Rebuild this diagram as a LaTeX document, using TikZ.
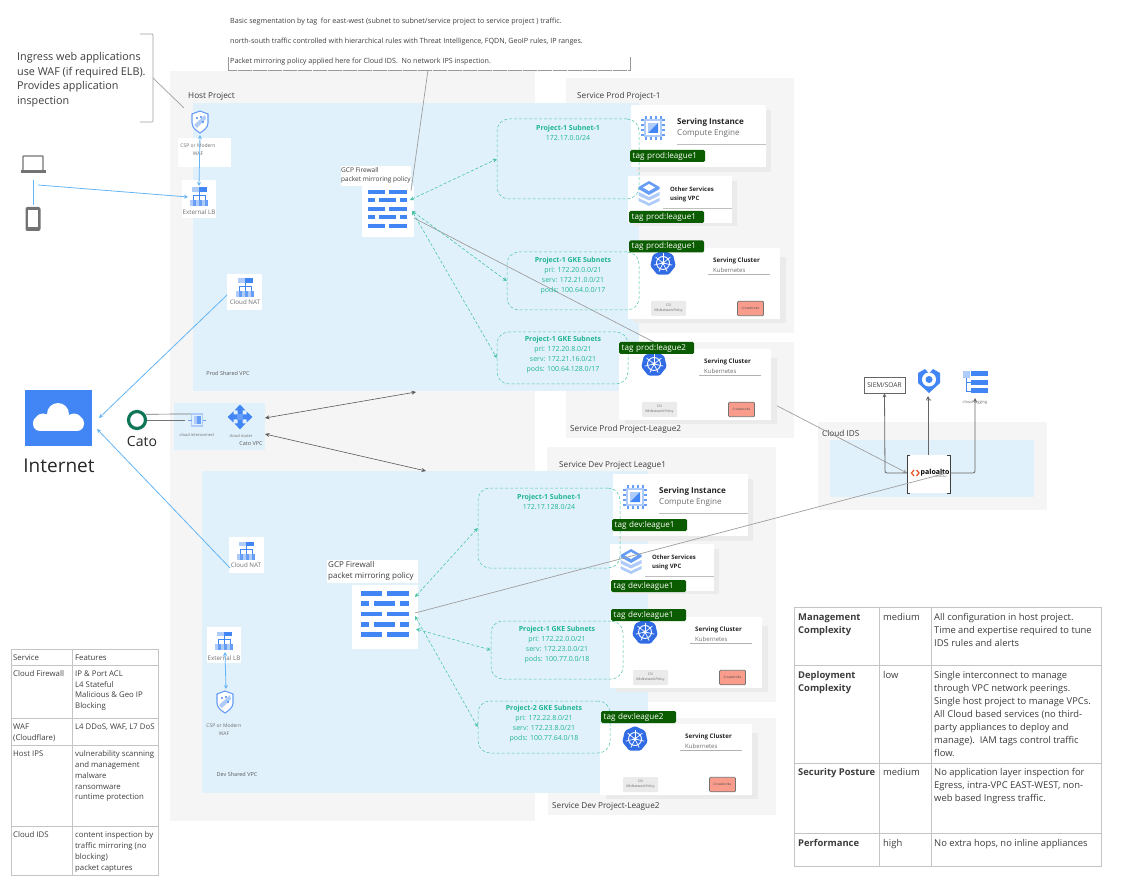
\documentclass[tikz,border=0pt]{standalone}
\usepackage{fontspec}
\setmainfont{Open Sans}
\usetikzlibrary{arrows.meta}

\definecolor{panelgray}{HTML}{F5F5F5}
\definecolor{vpcblue}{HTML}{E1F1FB}
\definecolor{shadowgray}{HTML}{EBEBEB}
\definecolor{subnetteal}{HTML}{1FB594}
\definecolor{taggreen}{HTML}{0B5C00}
\definecolor{gblue}{HTML}{4285F4}
\definecolor{gmid}{HTML}{669DF6}
\definecolor{glight}{HTML}{AECBFA}
\definecolor{kubeblue}{HTML}{326CE5}
\definecolor{skyline}{HTML}{64B5F6}
\definecolor{mirrorgray}{HTML}{9E9E9E}
\definecolor{inkgray}{HTML}{3C3C3C}
\definecolor{iconlabelgray}{HTML}{6E6E6E}
\definecolor{rulegray}{HTML}{C4C4C4}
\definecolor{salmon}{HTML}{F99C8B}
\definecolor{catogreen}{HTML}{0E7558}
\definecolor{paloorange}{HTML}{E8501F}

\tikzset{
  txt/.style 2 args={inner sep=0pt,align=left,text=inkgray,font=\fontsize{#1}{#2}\selectfont},
  arealabel/.style={txt={8.2}{10},anchor=west,yshift=-1.5pt},
  iconlabel/.style={txt={6.2}{7.5},align=center,text=iconlabelgray},
  vpclabel/.style={txt={5.5}{7.5},align=center,text=black!65},
  tinylabel/.style={txt={4}{5},align=center,text=iconlabelgray},
  toptext/.style={txt={7.15}{8},anchor=west},
  subnettext/.style={txt={7}{10},align=center,text=subnetteal,anchor=north,yshift=-2pt},
  cellleft/.style={txt={7.8}{10.8},anchor=north west,yshift=-1.5pt},
  cellright/.style={txt={9.4}{13},anchor=north west,yshift=-1.5pt},
  tagbox/.style={fill=taggreen,rounded corners=1.5pt,text=white,anchor=west,align=left,
    inner sep=0pt,text width=70pt,minimum height=12pt,inner xsep=2.5pt,font=\fontsize{8.1}{9}\selectfont},
  subnet/.style={draw=subnetteal!80,densely dashed,line width=0.5pt,rounded corners=12pt,inner sep=0pt},
  iconbox/.style={fill=white,inner sep=0pt},
  tealpeer/.style={draw=subnetteal!80,densely dashed,line width=0.6pt,{Stealth[length=4pt,width=4pt,fill=subnetteal]}-{Stealth[length=4pt,width=4pt,fill=subnetteal]}},
  mirror/.style={draw=mirrorgray,line width=0.7pt},
  skyarrow/.style={draw=skyline,line width=0.8pt,-{Stealth[length=4pt,width=4pt]}},
  darkarrow/.style={draw=black!65,line width=0.6pt,{Stealth[length=4.5pt,width=4pt]}-{Stealth[length=4.5pt,width=4pt]}},
  idsarrow/.style={draw=black!60,line width=0.8pt,rounded corners=2pt,-{Stealth[length=4pt,width=4pt]}},
  tablerule/.style={draw=rulegray,line width=0.7pt},
  fwicon/.pic={
    \foreach \r in {-17,0,17} {
      \fill[gblue] (-19.5,\r-2) rectangle (-2.5,\r+2);
      \fill[gblue] (1.5,\r-2) rectangle (19.5,\r+2);
    }
    \foreach \r in {-8.5,8.5} {
      \fill[gblue] (-19.5,\r-2) rectangle (-13,\r+2);
      \fill[gblue] (-9,\r-2) rectangle (8.5,\r+2);
      \fill[gblue] (12.5,\r-2) rectangle (19.5,\r+2);
    }
  },
  lbicon/.pic={
    \fill[glight] (-7.5,-9.5) rectangle (0,-5);
    \fill[gblue] (0,-9.5) rectangle (7.5,-5);
    \draw[gblue,line width=0.9pt] (0,-5) -- (0,-2);
    \draw[gblue,line width=0.7pt] (-6,3) -- (-6,-2) -- (6,-2) -- (6,3);
    \draw[gblue,line width=0.7pt] (0,-2) -- (0,3);
    \foreach \c in {-6,0,6} {
      \fill[glight] (\c-3,3) rectangle (\c,9);
      \fill[gmid] (\c,3) rectangle (\c+3,9);
    }
  },
  shieldicon/.pic={
    \draw[gmid,line width=1.1pt,fill=white] (0,-11) -- (8,-8) -- (8,1) .. controls (8,6) and (3,9) .. (0,11)
      .. controls (-3,9) and (-8,6) .. (-8,1) -- (-8,-8) -- cycle;
    \fill[glight] (-6,3) -- (5,-7) -- (6,-3) -- (-3,6) -- cycle;
    \fill[gblue] (-3,-4) circle (1.2);
    \fill[gblue] (1,-5) circle (1.1);
    \fill[gblue] (3,0) circle (1.2);
  },
  chipicon/.pic={
    \foreach \p in {-7.5,-2.5,2.5,7.5} {
      \fill[gmid] (\p-1,-12) rectangle (\p+1,-9);
      \fill[gmid] (\p-1,9) rectangle (\p+1,12);
      \fill[gmid] (-12,\p-1) rectangle (-9,\p+1);
      \fill[gmid] (9,\p-1) rectangle (12,\p+1);
    }
    \draw[glight,line width=2pt,fill=white] (-8,-8) rectangle (8,8);
    \fill[glight] (-5,-5) rectangle (5,5);
    \fill[gblue] (5,-5) -- (5,5) -- (-5,5) -- cycle;
  },
  stackicon/.pic={
    \fill[glight] (-10.5,5) -- (0,10) -- (10.5,5) -- (10.5,8) -- (0,13) -- (-10.5,8) -- cycle;
    \fill[glight] (-10.5,-1) -- (0,4) -- (10.5,-1) -- (10.5,2.5) -- (0,7.5) -- (-10.5,2.5) -- cycle;
    \fill[gmid] (-10.5,-6) -- (0,-12) -- (10.5,-6) -- (10.5,-4) -- (0,2) -- (-10.5,-4) -- cycle;
    \fill[white] (-6,-5.5) -- (0,-9) -- (6,-5.5) -- (0,-2) -- cycle;
  },
  kubeicon/.pic={
    \fill[kubeblue,rounded corners=1.5pt] (-90:13) -- (-38.6:13) -- (12.9:13) -- (64.3:13) -- (115.7:13) -- (167.1:13) -- (218.6:13) -- cycle;
    \draw[white,line width=0.9pt] (0,0) circle (6.5);
    \foreach \a in {-90,-38.6,12.9,64.3,115.7,167.1,218.6}
      \draw[white,line width=0.7pt] (0,0) -- (\a:9.5);
    \fill[white] (0,0) circle (1.8);
  },
  sccicon/.pic={
    \fill[gblue] (-4,-12) -- (-11,-8) -- (-11,2) -- (0,12) -- (11,2) -- (11,-8) -- (4,-12) -- (0,-7.5) -- cycle;
    \fill[white] (0,-1.5) circle (7);
    \fill[gblue] (0,-1.5) circle (3.5);
  },
  logicon/.pic={
    \foreach \r in {-9,-0.5,8} \fill[gblue] (-4,\r-2.5) rectangle (12.5,\r+2.5);
    \draw[gblue,line width=0.9pt] (-9,-7) -- (-9,8) -- (-4,8);
    \draw[gblue,line width=0.9pt] (-9,-0.5) -- (-4,-0.5);
    \fill[glight] (-12.5,-12) rectangle (-5,-5);
  },
  routericon/.pic={
    \foreach \a in {0,90,180,270}
      \fill[gblue,rotate=\a] (12.5,0) -- (6.5,-5.5) -- (6.5,-2.5) -- (2.5,-2.5) -- (2.5,2.5) -- (6.5,2.5) -- (6.5,5.5) -- cycle;
    \fill[gmid] (-3,-3) rectangle (3,3);
  },
  linkicon/.pic={
    \draw[glight,line width=1.1pt] (-5.5,-6) rectangle (5.5,6);
    \fill[glight] (-3.5,-4) rectangle (0,4);
    \fill[gmid] (0,-4) rectangle (3.5,4);
    \draw[gmid,line width=0.8pt] (-9,0) -- (-5.5,0);
    \draw[gmid,line width=0.8pt] (5.5,0) -- (9,0);
  },
  laptopicon/.pic={
    \draw[black!55,line width=1.3pt,rounded corners=0.5pt] (-10,6) -- (-10,-8) -- (10,-8) -- (10,6);
    \fill[black!55] (-12.5,6) rectangle (12.5,9);
  },
  phoneicon/.pic={
    \fill[black!55,rounded corners=2pt] (-7.5,-12) rectangle (7.5,12);
    \fill[white] (-5,-8.5) rectangle (5,8.5);
  },
  instancecard/.pic={
    \fill[shadowgray] (5,5) rectangle (140,67);
    \node[iconbox,minimum width=135pt,minimum height=62pt] (card) at (67.5,31) {};
    \pic at (22,23) {chipicon};
    \node[txt={8.1}{10},anchor=west,text=black!85] (title) at (46,17) {\textbf{Serving Instance}};
    \node[txt={8.1}{10},anchor=west,text=iconlabelgray] (kind) at (46,29) {Compute Engine};
    \draw[black!25,line width=0.8pt] (46,39.5) -- (135,39.5);
  },
  othercard/.pic={
    \fill[shadowgray] (5,5) rectangle (109,50);
    \node[iconbox,minimum width=104pt,minimum height=47pt] (card) at (52,23.5) {};
    \pic at (21,17) {stackicon};
    \node[txt={6}{9},anchor=north west,text=black!85] (title) at (42,10.5) {\textbf{Other Services}\\\textbf{using VPC}};
    \draw[black!25,line width=0.8pt] (35,32.5) -- (104,32.5);
  },
  clustercard/.pic={
    \fill[shadowgray] (6,9) rectangle (158,75);
    \node[iconbox,minimum width=152pt,minimum height=71pt] (card) at (76,35.5) {};
    \pic at (35,15) {kubeicon};
    \node[txt={6.2}{8},anchor=west,text=black!85] (title) at (85,13) {\textbf{Serving Cluster}};
    \node[txt={6}{8},anchor=west,text=iconlabelgray] (kind) at (85,22) {Kubernetes};
    \draw[black!30,line width=0.7pt] (80,26) -- (142,26);
    \node[fill=black!8,rounded corners=1pt,inner sep=0pt,minimum width=35pt,minimum height=15pt,align=center,text=black!60,font=\fontsize{3.4}{5}\selectfont] (csi) at (40.5,60.5) {CSI\\K8sNetworkPolicy};
    \node[fill=salmon,draw=black!55,line width=0.7pt,rounded corners=1pt,inner sep=0pt,minimum width=26pt,minimum height=14.5pt,text=black!70,font=\fontsize{3.2}{5}\selectfont] (crowd) at (122.5,60.5) {Crowdstrike};
  },
}

\begin{document}
\begin{tikzpicture}[x=1pt,y=-1pt]
  \useasboundingbox (0,0) rectangle (1122,890);

  % project panels
  \fill[panelgray] (170,71) rectangle (535,821);
  \fill[panelgray] (566,78) rectangle (794,333);
  \fill[panelgray] (566,342) rectangle (794,438);
  \fill[panelgray] (547,447) rectangle (776,702);
  \fill[panelgray] (548,718) rectangle (776,815);
  \fill[panelgray] (818,422) rectangle (1047,510);

  % shared vpcs
  \fill[vpcblue] (193,103) rectangle (639,391);
  \fill[vpcblue] (202,471) rectangle (648,793);
  \fill[vpcblue] (174,403) rectangle (265,450);
  \fill[vpcblue] (830,440) rectangle (1034,497);

  \node[arealabel] (hostproject) at (188,95) {Host Project};
  \node[arealabel] (prodone) at (577,95) {Service Prod Project-1};
  \node[arealabel] (prodtwo) at (570,428) {Service Prod Project-League2};
  \node[arealabel] (devone) at (559,464) {Service Dev Project League1};
  \node[arealabel] (devtwo) at (552,805) {Service Dev Project-League2};
  \node[arealabel] (cloudids) at (822,432) {Cloud IDS};
  \node[vpclabel] (prodvpc) at (228,373) {Prod Shared VPC};
  \node[vpclabel] (devvpc) at (237,774) {Dev Shared VPC};
  \node[vpclabel] (catovpc) at (251,444) {Cato VPC};

  % notes
  \node[txt={10.8}{14.5},anchor=north west] (ingressnote) at (17,52.5) {Ingress web applications\\use WAF (if required ELB).\\Provides application\\inspection};
  \draw[mirror,rounded corners=1pt] (140,34) -- (153,34) -- (153,122) -- (140,122);
  \coordinate (ingressfoot) at (153,78);
  \coordinate (ingresshead) at (184,108);
  \draw[mirror] (ingressfoot) -- (ingresshead);

  \node[toptext] (topone) at (230,22) {Basic segmentation by tag\ \ for east-west (subnet to subnet/service project to service project ) traffic.};
  \node[toptext] (toptwo) at (230,41.5) {north-south traffic controlled with hierarchical rules with Threat Intelligence, FQDN, GeoIP rules, IP ranges.};
  \node[toptext] (topthree) at (230,61.5) {Packet mirroring policy applied here for Cloud IDS.\ \ No network IPS inspection.};
  \draw[black!40,line width=0.5pt,dash pattern=on 7pt off 0.5pt] (228,57) -- (228,70) -- (630,70) -- (630,57);

  % mirrored traffic of prod passes behind the cards
  \coordinate (fwprodmirror) at (410,216);
  \coordinate (paloin) at (907,473);
  \draw[mirror,-{Stealth[length=4pt,width=4pt]}] (fwprodmirror) -- (paloin);

  % cards
  \pic (instprod) at (631,105) {instancecard};
  \pic (otherprod) at (628,176) {othercard};
  \pic (clusterprod) at (628,248) {clustercard};
  \pic (clusterleague) at (619,349) {clustercard};
  \pic (instdev) at (613,474) {instancecard};
  \pic (otherdev) at (610,544) {othercard};
  \pic (clusterdev) at (610,617) {clustercard};
  \pic (clusterdevleague) at (600,724) {clustercard};

  % subnets
  \node[subnet,minimum width=142pt,minimum height=80pt] (subprodone) at (568,159) {};
  \node[subnet,minimum width=132pt,minimum height=58pt] (subprodtwo) at (573,281) {};
  \node[subnet,minimum width=131pt,minimum height=52pt] (subprodthree) at (562.5,358) {};
  \node[subnet,minimum width=142pt,minimum height=80pt] (subdevone) at (549,528) {};
  \node[subnet,minimum width=132pt,minimum height=58pt] (subdevtwo) at (557,650) {};
  \node[subnet,minimum width=132pt,minimum height=52pt] (subdevthree) at (544,727) {};

  \node[subnettext] (textprodone) at (568,123) {\textbf{Project-1 Subnet-1}\\172.17.0.0/24};
  \node[subnettext] (textprodtwo) at (573,255) {\textbf{Project-1 GKE Subnets}\\pri: 172.20.0.0/21\\serv: 172.21.0.0/21\\pods: 100.64.0.0/17};
  \node[subnettext] (textprodthree) at (563,334) {\textbf{Project-1 GKE Subnets}\\pri: 172.20.8.0/21\\serv: 172.21.16.0/21\\pods: 100.64.128.0/17};
  \node[subnettext] (textdevone) at (549,492) {\textbf{Project-1 Subnet-1}\\172.17.128.0/24};
  \node[subnettext] (textdevtwo) at (557,624) {\textbf{Project-1 GKE Subnets}\\pri: 172.22.0.0/21\\serv: 172.23.0.0/21\\pods: 100.77.0.0/18};
  \node[subnettext] (textdevthree) at (544,703) {\textbf{Project-2 GKE Subnets}\\pri: 172.22.8.0/21\\serv: 172.23.8.0/21\\pods: 100.77.64.0/18};

  % tags
  \node[tagbox] (tagprodone) at (630,156) {tag prod:league1};
  \node[tagbox] (tagprodtwo) at (629,217) {tag prod:league1};
  \node[tagbox] (tagprodthree) at (629,246.5) {tag prod:league1};
  \node[tagbox] (tagprodfour) at (619,348) {tag prod:league2};
  \node[tagbox] (tagdevone) at (612,525) {tag dev:league1};
  \node[tagbox] (tagdevtwo) at (611,586) {tag dev:league1};
  \node[tagbox] (tagdevthree) at (611,615) {tag dev:league1};
  \node[tagbox] (tagdevfour) at (601,717) {tag dev:league2};

  % firewalls
  \node[iconbox,minimum width=52pt,minimum height=51pt] (fwprod) at (387.5,211.5) {};
  \pic at (387.5,209) {fwicon};
  \node[iconbox,minimum width=70pt,minimum height=20pt] (fwprodbox) at (376,176) {};
  \node[txt={6.5}{9},anchor=north west] (fwprodlabel) at (341,167) {GCP Firewall\\packet mirroring policy};
  \node[iconbox,minimum width=66pt,minimum height=64pt] (fwdev) at (385,617) {};
  \pic[scale=1.23] at (385,614) {fwicon};
  \node[iconbox,minimum width=91pt,minimum height=23pt] (fwdevbox) at (372.5,571.5) {};
  \node[txt={8}{11.5},anchor=north west] (fwdevlabel) at (328,561) {GCP Firewall\\packet mirroring policy};

  \coordinate (topnotefoot) at (428,70);
  \coordinate (fwprodtop) at (411,191);
  \draw[mirror] (topnotefoot) -- (fwprodtop);

  \coordinate (fwprodone) at (410,200);
  \coordinate (fwprodtwo) at (412,211);
  \coordinate (fwdevone) at (415,597);
  \coordinate (fwdevtwo) at (416,629);
  \coordinate (fwdevthree) at (415,616);
  \draw[tealpeer] (fwprodone) -- (subprodone.west);
  \draw[tealpeer] (fwprodtwo) -- (subprodtwo.west);
  \draw[tealpeer] (fwprodtwo) -- (subprodthree.west);
  \draw[tealpeer] (fwdevone) -- (subdevone.west);
  \draw[tealpeer] (fwdevtwo) -- (subdevtwo.west);
  \draw[tealpeer] (fwdevthree) -- (subdevthree.west);

  % ingress side of prod
  \coordinate (wafprod) at (200,122);
  \pic at (wafprod) {shieldicon};
  \node[iconbox,minimum width=53pt,minimum height=29pt] (wafprodbox) at (204.5,152.5) {};
  \node[iconlabel,txt={5}{8},align=center,text=iconlabelgray] (wafprodlabel) at (198,150) {CSP or Modern\\WAF};
  \node[iconbox,minimum width=34pt,minimum height=38pt] (lbprod) at (199,199) {};
  \pic at (199,197) {lbicon};
  \node[iconlabel] (lbprodlabel) at (199,212) {External LB};
  \node[iconbox,minimum width=35pt,minimum height=36pt] (natprod) at (244.5,292) {};
  \pic at (245,288) {lbicon};
  \node[iconlabel] (natprodlabel) at (245,302) {Cloud NAT};
  \coordinate (wafprodport) at (200,135);
  \coordinate (lbprodport) at (199,186);
  \draw[skyarrow,{Stealth[length=4pt,width=4pt]}-{Stealth[length=4pt,width=4pt]}] (wafprodport) -- (lbprodport);

  % ingress side of dev
  \node[iconbox,minimum width=35pt,minimum height=36pt] (natdev) at (246.5,555) {};
  \pic at (246,551) {lbicon};
  \node[iconlabel] (natdevlabel) at (246,565) {Cloud NAT};
  \node[iconbox,minimum width=34pt,minimum height=36pt] (lbdev) at (224,645) {};
  \pic at (224,641) {lbicon};
  \node[iconlabel] (lbdevlabel) at (224,658) {External LB};
  \coordinate (wafdev) at (225,702);
  \pic at (wafdev) {shieldicon};
  \node[iconlabel,txt={5}{7.5},align=center,text=iconlabelgray] (wafdevlabel) at (224,729.5) {CSP or Modern\\WAF};
  \coordinate (lbdevport) at (225,652);
  \coordinate (wafdevport) at (226,689);
  \draw[skyarrow,{Stealth[length=4pt,width=4pt]}-{Stealth[length=4pt,width=4pt]}] (lbdevport) -- (wafdevport);

  % clients
  \pic at (33,164) {laptopicon};
  \node[iconbox,minimum width=29pt,minimum height=29pt] (phonebox) at (32.5,218.5) {};
  \pic at (33,219) {phoneicon};
  \coordinate (laptopfoot) at (33,180);
  \coordinate (phonehead) at (33,205);
  \coordinate (clientout) at (38,185);
  \coordinate (lbprodin) at (188,197);
  \draw[skyline,line width=0.8pt] (laptopfoot) -- (phonehead);
  \draw[skyarrow] (clientout) -- (lbprodin);

  % internet
  \node[fill=gblue,minimum width=67pt,minimum height=56pt,inner sep=0pt] (internet) at (58.5,418) {};
  \fill[white,rounded corners=7pt] (33,416) rectangle (84,431);
  \fill[white] (58,414) circle (11);
  \fill[white] (43,422) circle (8.5);
  \fill[white] (74,422) circle (8.5);
  \node[txt={19}{22},anchor=center,text=black!85] (internetlabel) at (59,466) {Internet};
  \coordinate (natprodout) at (227,295);
  \coordinate (internetin) at (99,418);
  \coordinate (natdevout) at (230,568);
  \coordinate (internetlow) at (97,429);
  \draw[skyarrow] (natprodout) -- (internetin);
  \draw[skyarrow] (natdevout) -- (internetlow);

  % cato
  \node[circle,draw=catogreen,line width=3.2pt,minimum size=17pt,inner sep=0pt] (cato) at (137,420) {};
  \node[txt={14}{16},anchor=center,text=black!85] (catolabel) at (142,441) {Cato};
  \coordinate (linkicon) at (197,420);
  \coordinate (linktop) at (193,414);
  \coordinate (linkin) at (185,420);
  \draw[black!55,line width=0.7pt] (cato.35) -- (linktop);
  \draw[black!55,line width=0.7pt] (cato.east) -- (linkin);
  \pic at (linkicon) {linkicon};
  \node[tinylabel] (linklabel) at (197,435) {cloud interconnect};
  \pic at (240,417) {routericon};
  \node[tinylabel] (routerlabel) at (241,436) {cloud router};
  \coordinate (routerup) at (265,418);
  \coordinate (routerlow) at (265,434);
  \coordinate (prodvpcport) at (416,392);
  \coordinate (devvpcport) at (426,471);
  \draw[darkarrow] (routerup) -- (prodvpcport);
  \draw[darkarrow] (routerlow) -- (devvpcport);

  % cloud ids
  \node[draw=black!60,line width=0.8pt,inner sep=0pt,minimum width=41pt,minimum height=16pt,font=\fontsize{6.6}{8}\selectfont,text=inkgray] (siem) at (884.5,385) {SIEM/SOAR};
  \pic at (929,381) {sccicon};
  \node[tinylabel] (scclabel) at (929,400) {scc};
  \pic at (975,383) {logicon};
  \node[tinylabel] (loglabel) at (975,402.5) {cloud logging};
  \node[iconbox,minimum width=43pt,minimum height=38pt] (palo) at (928.5,474) {};
  \draw[black!75,line width=0.7pt] (910,455) -- (907,455) -- (907,493) -- (910,493);
  \draw[black!75,line width=0.7pt] (947,455) -- (950,455) -- (950,493) -- (947,493);
  \draw[paloorange,line width=1.2pt] (914,470) -- (911.5,473) -- (914,476);
  \draw[paloorange,line width=1.2pt] (916.5,470) -- (919,473) -- (916.5,476);
  \node[txt={7}{8},anchor=west,text=black] (palotext) at (920.5,472.5) {\textbf{paloalto}};
  \node[txt={2.2}{3},anchor=east,text=black!70] (palosub) at (947,476.5) {NETWORKS};
  \coordinate (paloleft) at (907,473);
  \coordinate (paloright) at (950,473);
  \coordinate (palotop) at (928,455);
  \coordinate (sccport) at (928,396);
  \coordinate (logport) at (975,398);
  \draw[idsarrow] (paloleft) -- (885,473) -- (siem.south);
  \draw[idsarrow] (palotop) -- (sccport);
  \draw[idsarrow] (paloright) -- (975,473) -- (logport);

  % mirrored traffic of dev runs on top
  \coordinate (fwdevmirror) at (415,613);
  \coordinate (paloout) at (947,473);
  \draw[mirror] (fwdevmirror) -- (paloout);

  % service table
  \draw[tablerule] (11,649) rectangle (158.5,875);
  \draw[tablerule] (72,649) -- (72,875);
  \foreach \r in {665,718,745,826}
    \draw[tablerule] (11,\r) -- (158.5,\r);
  \node[cellleft] (svchead) at (13,653) {Service};
  \node[cellleft] (feathead) at (75,653) {Features};
  \node[cellleft] (svcfw) at (13,669) {Cloud Firewall};
  \node[cellleft] (featfw) at (75,669) {IP \& Port ACL\\L4 Stateful\\Malicious \& Geo IP\\Blocking};
  \node[cellleft] (svcwaf) at (13,722) {WAF\\(Cloudflare)};
  \node[cellleft] (featwaf) at (75,722) {L4 DDoS, WAF, L7 DoS};
  \node[cellleft] (svcips) at (13,749) {Host IPS};
  \node[cellleft] (featips) at (75,749) {vulnerability scanning\\and management\\malware\\ransomware\\runtime protection};
  \node[cellleft] (svcids) at (13,830) {Cloud IDS};
  \node[cellleft] (featids) at (75,830) {content inspection by\\traffic mirroring (no\\blocking)\\packet captures};

  % summary table
  \draw[tablerule] (794,607) rectangle (1101,866);
  \draw[tablerule] (879,607) -- (879,866);
  \draw[tablerule] (931,607) -- (931,866);
  \foreach \r in {665,763,833}
    \draw[tablerule] (794,\r) -- (1101,\r);
  \node[cellright] (rowmgmt) at (798,612) {\textbf{Management}\\\textbf{Complexity}};
  \node[cellright] (valmgmt) at (883,612) {medium};
  \node[cellright] (notemgmt) at (934,612) {All configuration in host project.\\Time and expertise required to tune\\IDS rules and alerts};
  \node[cellright] (rowdeploy) at (798,670) {\textbf{Deployment}\\\textbf{Complexity}};
  \node[cellright] (valdeploy) at (883,670) {low};
  \node[cellright] (notedeploy) at (934,670) {Single interconnect to manage\\through VPC network peerings.\\Single host project to manage VPCs.\\All Cloud based services (no third-\\party appliances to deploy and\\manage).\ \ IAM tags control traffic\\flow.};
  \node[cellright] (rowsec) at (798,767) {\textbf{Security Posture}};
  \node[cellright] (valsec) at (883,767) {medium};
  \node[cellright] (notesec) at (934,767) {No application layer inspection for\\Egress, intra-VPC EAST-WEST, non-\\web based Ingress traffic.};
  \node[cellright] (rowperf) at (798,838) {\textbf{Performance}};
  \node[cellright] (valperf) at (883,838) {high};
  \node[cellright] (noteperf) at (934,838) {No extra hops, no inline appliances};
\end{tikzpicture}
\end{document}
